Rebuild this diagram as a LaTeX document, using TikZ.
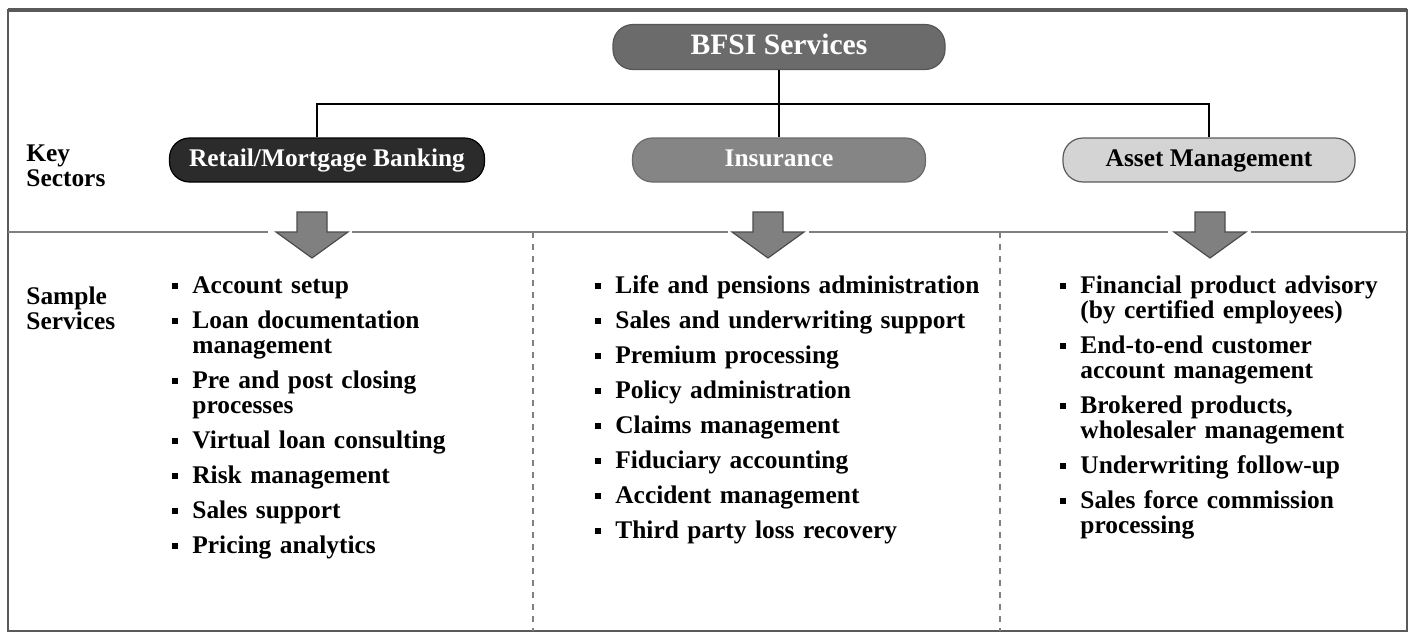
\documentclass[tikz,border=0pt]{standalone}
\usepackage{fontspec}
\setmainfont{Liberation Serif}
\usetikzlibrary{positioning}
\definecolor{bfsigray}{RGB}{107, 107, 107}
\definecolor{retaildark}{RGB}{43, 43, 43}
\definecolor{insgray}{RGB}{133, 133, 133}
\definecolor{assetlight}{RGB}{212, 212, 212}
\definecolor{framegray}{RGB}{90, 90, 90}
\definecolor{arrowgray}{RGB}{128, 128, 128}
\tikzset{
  sector/.style={rectangle, rounded corners=10pt, minimum height=22pt, inner sep=0pt, text height=8.6pt, text depth=2.6pt, line width=0.6pt, font=\fontsize{12.7}{12.5}\selectfont\bfseries},
  topbox/.style={sector, fill=bfsigray, draw=bfsigray!80!black, text=white, minimum width=166pt, minimum height=22.5pt, text height=10pt, text depth=3pt, font=\fontsize{14.8}{15}\selectfont\bfseries},
  retailbox/.style={sector, fill=retaildark, draw=black, text=white, minimum width=157.5pt},
  insbox/.style={sector, fill=insgray, draw=insgray!80!black, text=white, minimum width=146.5pt},
  assetbox/.style={sector, fill=assetlight, draw=framegray, text=black, minimum width=146pt},
  rowlabel/.style={anchor=base west, text width=80pt, align=left, inner sep=0pt, font=\fontsize{12.7}{12.5}\selectfont\bfseries},
  svclist/.style={anchor=base west, text width=190pt, align=left, inner sep=0pt, font=\fontsize{12.7}{12.5}\selectfont\bfseries},
  blockarrow/.style={fill=arrowgray, draw=black!70, line width=0.6pt, line join=miter},
  link/.style={draw=black, line width=1pt},
  divider/.style={draw=gray, line width=1pt}
}
\newcommand{\bul}{\noindent\llap{\rule[2pt]{2.8pt}{3pt}\hspace{7.3pt}}}

\begin{document}
\begin{tikzpicture}[x=0.5pt, y=-0.5pt]
    \useasboundingbox (0,0) rectangle (1414,632);

    % Outer frame
    \draw[framegray, line width=1.4pt] (8,10) rectangle (1407,631);
    \draw[framegray, line width=2pt] (8,10) -- (1407,10);

    % Divider between sectors and services (broken at the arrows)
    \foreach \xa/\xb in {8/268, 352/728, 809/1168, 1251/1407}
        \draw[divider] (\xa,232) -- (\xb,232);

    % Column separators
    \foreach \xc in {533, 1000}
        \draw[divider, dashed, line width=0.6pt] (\xc,232) -- (\xc,631);

    % Top node
    \node[topbox] (bfsi) at (779,47) {BFSI Services};

    % Key sectors
    \node[retailbox] (retail) at (327,160) {Retail/Mortgage Banking};
    \node[insbox] (ins) at (779,160) {Insurance};
    \node[assetbox] (asset) at (1209,160) {Asset Management};

    % Tree connectors
    \coordinate (hub) at (779,104);
    \draw[link] (bfsi.south) -- (ins.north);
    \draw[link] ([xshift=-5pt]retail.north) |- (hub) -| (asset.north);

    % Block arrows
    \foreach \xm in {312, 768, 1210}
        \draw[blockarrow] (\xm-15,212) -- (\xm+15,212) -- (\xm+15,232) -- (\xm+36,232)
            -- (\xm,258) -- (\xm-36,232) -- (\xm-15,232) -- cycle;

    % Row labels
    \node[rowlabel] (keylbl) at (26,161) {Key\\Sectors};
    \node[rowlabel] (samplelbl) at (26,304) {Sample\\Services};

    % Sample services
    \node[svclist] (retaillist) at (192,293) {%
        \bul Account setup\\[5pt]
        \bul Loan documentation\\ management\\[5pt]
        \bul Pre and post closing\\ processes\\[5pt]
        \bul Virtual loan consulting\\[5pt]
        \bul Risk management\\[5pt]
        \bul Sales support\\[5pt]
        \bul Pricing analytics};
    \node[svclist] (inslist) at (615,293) {%
        \bul Life and pensions administration\\[5pt]
        \bul Sales and underwriting support\\[5pt]
        \bul Premium processing\\[5pt]
        \bul Policy administration\\[5pt]
        \bul Claims management\\[5pt]
        \bul Fiduciary accounting\\[5pt]
        \bul Accident management\\[5pt]
        \bul Third party loss recovery};
    \node[svclist] (assetlist) at (1080,293) {%
        \bul Financial product advisory\\ (by certified employees)\\[5pt]
        \bul End-to-end customer\\ account management\\[5pt]
        \bul Brokered products,\\ wholesaler management\\[5pt]
        \bul Underwriting follow-up\\[5pt]
        \bul Sales force commission\\ processing};
\end{tikzpicture}
\end{document}
